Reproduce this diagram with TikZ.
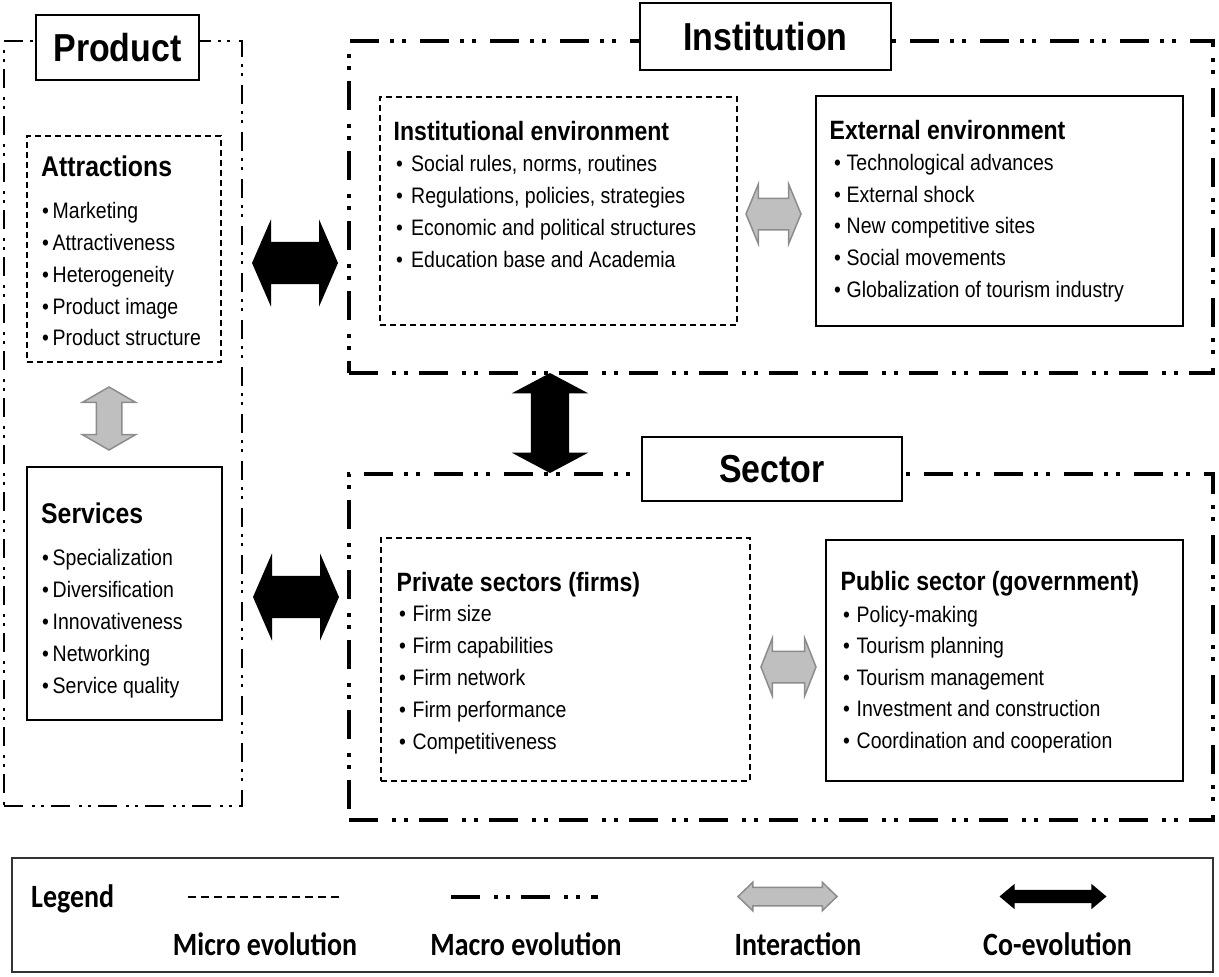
\documentclass[tikz,border=0pt]{standalone}
\usepackage{fontspec}
\setmainfont{Liberation Sans}[FakeStretch=0.87]
\newfontfamily\legfont{Carlito}[FakeStretch=0.86]
\usetikzlibrary{shapes.arrows}
\definecolor{intfill}{RGB}{191,191,191}
\definecolor{intline}{RGB}{140,140,140}
\newcommand{\bul}[1]{\makebox[#1pt][l]{\textbullet}}
\begin{document}
\begin{tikzpicture}
    [x=1pt,y=-1pt,inner sep=0pt,
     macrobox/.style={draw,line width=3.5pt,dash pattern=on 29pt off 14pt on 4pt off 8pt on 4pt off 11pt},
     prodbox/.style={draw,line width=2.5pt,dash pattern=on 19pt off 9pt on 3pt off 6pt on 3pt off 7pt},
     microbox/.style={draw,line width=1.3pt,dash pattern=on 6pt off 4pt},
     solidbox/.style={draw,line width=1.6pt},
     titlebox/.style={draw,fill=white,line width=2.5pt,font=\bfseries\fontsize{39}{44}\selectfont},
     head/.style={anchor=base west,font=\bfseries\fontsize{26.5}{30}\selectfont},
     bighead/.style={anchor=base west,font=\bfseries\fontsize{28.5}{32}\selectfont},
     item/.style={anchor=base west,font=\fontsize{22.4}{26}\selectfont},
     coevo/.style={double arrow,fill=black},
     inter/.style={double arrow,fill=intfill,draw=intline,line width=1.5pt},
     legtext/.style={anchor=base,font=\legfont\bfseries\fontsize{32.5}{36}\selectfont}]
    \useasboundingbox (0,0) rectangle (1219,977);
    \node (prod) at (123,423.5) [prodbox,minimum width=238pt,minimum height=765pt] {};
    \node (inst) at (781,207) [macrobox,minimum width=864pt,minimum height=332pt] {};
    \node (sec) at (781,647) [macrobox,minimum width=864pt,minimum height=346pt] {};
    \node (prodT) at (117.5,47.5) [titlebox,minimum width=163pt,minimum height=65pt] {Product};
    \node (instT) at (765.5,36.5) [titlebox,minimum width=251pt,minimum height=67pt] {Institution};
    \node (secT) at (772,469) [titlebox,minimum width=260pt,minimum height=64pt] {Sector};
    \node (attr) at (124,249) [microbox,minimum width=194pt,minimum height=226pt] {};
    \node (serv) at (124.5,593.5) [solidbox,minimum width=195pt,minimum height=253pt] {};
    \node (ienv) at (558.5,211) [microbox,minimum width=357pt,minimum height=228pt] {};
    \node (eenv) at (999.5,211) [solidbox,minimum width=367pt,minimum height=230pt] {};
    \node (priv) at (565.5,659.5) [microbox,minimum width=369pt,minimum height=243pt] {};
    \node (publ) at (1004.5,660.5) [solidbox,minimum width=357pt,minimum height=241pt] {};
    \node (attrH) at (41,176) [bighead] {Attractions};
    \foreach \txt [count=\i] in {Marketing,Attractiveness,Heterogeneity,Product image,Product structure}
      \node (attr\i) at (42,187+31.75*\i) [item] {\bul{10.5}\txt};
    \node (servH) at (41,523) [bighead] {Services};
    \foreach \txt [count=\i] in {Specialization,Diversification,Innovativeness,Networking,Service quality}
      \node (serv\i) at (42,533+32*\i) [item] {\bul{10.5}\txt};
    \node (ienvH) at (393.5,140) [head] {Institutional environment};
    \foreach \txt [count=\i] in {{Social rules, norms, routines},{Regulations, policies, strategies},Economic and political structures,Education base and Academia}
      \node (ienv\i) at (396,139+32*\i) [item] {\bul{15}\txt};
    \node (eenvH) at (829.5,139) [head] {External environment};
    \foreach \txt [count=\i] in {Technological advances,External shock,New competitive sites,Social movements,Globalization of tourism industry}
      \node (eenv\i) at (834,138.5+31.75*\i) [item] {\bul{12.5}\txt};
    \node (privH) at (396.5,591) [head] {Private sectors (firms)};
    \foreach \txt [count=\i] in {Firm size,Firm capabilities,Firm network,Firm performance,Competitiveness}
      \node (priv\i) at (399,589+32*\i) [item] {\bul{13.5}\txt};
    \node (publH) at (840.5,590) [head] {Public sector (government)};
    \foreach \txt [count=\i] in {Policy-making,Tourism planning,Tourism management,Investment and construction,Coordination and cooperation}
      \node (publ\i) at (843,590.5+31.5*\i) [item] {\bul{13.5}\txt};
    \node (coPI) at (295,263) [coevo,minimum height=86pt,minimum width=87pt,inner ysep=21pt,double arrow head extend=22.5pt,double arrow tip angle=133] {};
    \node (coPS) at (296,597) [coevo,minimum height=86pt,minimum width=87pt,inner ysep=21pt,double arrow head extend=22.5pt,double arrow tip angle=133] {};
    \node (coIS) at (550,423) [coevo,rotate=90,minimum height=100pt,minimum width=76pt,inner ysep=19pt,double arrow head extend=19pt,double arrow tip angle=124] {};
    \node (inAS) at (109,418.5) [inter,rotate=90,minimum height=63pt,minimum width=52pt,inner ysep=12pt,double arrow head extend=14pt,double arrow tip angle=120] {};
    \node (inIE) at (773.5,214) [inter,minimum height=55pt,minimum width=58pt,inner ysep=15pt,double arrow head extend=14pt,double arrow tip angle=135] {};
    \node (inPP) at (788.5,667) [inter,minimum height=55pt,minimum width=56pt,inner ysep=15pt,double arrow head extend=13pt,double arrow tip angle=137] {};
    \node (leg) at (612.5,915) [draw=black!80,line width=2pt,minimum width=1201pt,minimum height=114pt] {};
    \node (legH) at (31,907) [legtext,anchor=base west] {Legend};
    \coordinate (mi1) at (188,897);
    \coordinate (mi2) at (340,897);
    \coordinate (ma1) at (451,897);
    \coordinate (ma2) at (598,897);
    \draw [line width=2pt,dash pattern=on 8pt off 5pt] (mi1) to (mi2);
    \draw [macrobox,line width=4pt] (ma1) to (ma2);
    \node (legI) at (787.5,896.5) [inter,minimum height=99pt,minimum width=27pt,inner ysep=8.5pt,double arrow head extend=5pt,double arrow tip angle=88] {};
    \node (legC) at (1053,896.5) [coevo,minimum height=107pt,minimum width=25pt,inner ysep=6.5pt,double arrow head extend=6pt,double arrow tip angle=80] {};
    \node (legMi) at (265,955) [legtext] {Micro evolution};
    \node (legMa) at (526,955) [legtext] {Macro evolution};
    \node (legIn) at (798,955) [legtext] {Interaction};
    \node (legCo) at (1057.5,955) [legtext] {Co-evolution};
  \end{tikzpicture}
\end{document}
